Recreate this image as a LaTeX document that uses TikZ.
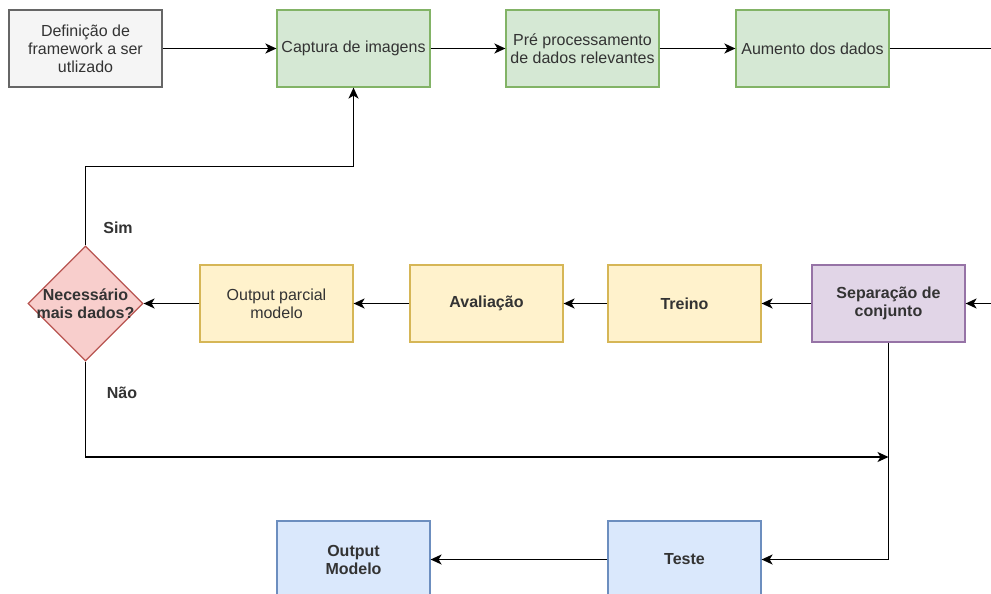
\documentclass[tikz,border=0pt]{standalone}
\usepackage{fontspec}
\setmainfont{Liberation Sans}
\usetikzlibrary{shapes.geometric,arrows.meta}
\definecolor{grayfill}{HTML}{F5F5F5}\definecolor{graydraw}{HTML}{666666}
\definecolor{greenfill}{HTML}{D5E8D4}\definecolor{greendraw}{HTML}{82B366}
\definecolor{yelfill}{HTML}{FFF2CC}\definecolor{yeldraw}{HTML}{D6B656}
\definecolor{purfill}{HTML}{E1D5E7}\definecolor{purdraw}{HTML}{9673A6}
\definecolor{bluefill}{HTML}{DAE8FC}\definecolor{bluedraw}{HTML}{6C8EBF}
\definecolor{redfill}{HTML}{F8CECC}\definecolor{reddraw}{HTML}{B85450}
\definecolor{txt}{HTML}{333333}
\begin{document}
\begin{tikzpicture}[x=1pt,y=-1pt,
  font=\fontsize{16}{18}\selectfont,
  box/.style={rectangle,minimum width=153pt,minimum height=77pt,inner sep=2pt,align=center,line width=1.2pt,text=txt},
  gbox/.style={box,fill=grayfill,draw=graydraw},
  grbox/.style={box,fill=greenfill,draw=greendraw},
  ybox/.style={box,fill=yelfill,draw=yeldraw},
  pbox/.style={box,fill=purfill,draw=purdraw},
  bbox/.style={box,fill=bluefill,draw=bluedraw},
  bt/.style={font=\fontsize{16}{18}\selectfont\bfseries},
  conn/.style={line width=1.5pt,draw=black},
  arr/.style={conn,-{Stealth[length=11pt,width=10pt,inset=3pt]}},
  lbl/.style={font=\fontsize{16}{18}\selectfont\bfseries,text=txt}]
\clip (0,0) rectangle (991,594);
\fill[white] (0,0) rectangle (991,594);
\node[gbox] (def) at (85.5,48.5) {Definição de\\framework a ser\\utlizado};
\node[grbox] (cap) at (353.5,48.5) {Captura de imagens};
\node[grbox] (pre) at (582.5,48.5) {Pré processamento\\de dados relevantes};
\node[grbox] (aum) at (812.5,48.5) {Aumento dos dados};
\node[pbox,bt] (sep) at (888.5,303.5) {Separação de\\conjunto};
\node[ybox,bt] (tre) at (684.5,303.5) {Treino};
\node[ybox,bt] (ava) at (486.5,303.5) {Avaliação};
\node[ybox] (opm) at (276.5,303.5) {Output parcial\\modelo};
\node[diamond,minimum width=115pt,minimum height=115pt,inner sep=0pt,fill=redfill,draw=reddraw,line width=1.2pt] (dia) at (85.5,303.5) {};
\node[align=center,text=txt,bt] (diat) at (dia.center) {Necessário\\mais dados?};
\node[bbox,bt] (tes) at (684.5,559.5) {Teste};
\node[bbox,bt] (out) at (353.5,559.5) {Output\\Modelo};
\node[lbl] (sim) at (118,228) {Sim};
\node[lbl] (nao) at (122,393) {Não};
\coordinate (rout) at (991,48.5);
\coordinate (rin) at (991,303.5);
\coordinate (join) at (888.5,457);
\draw[arr] (def) -- (cap);
\draw[arr] (cap) -- (pre);
\draw[arr] (pre) -- (aum);
\draw[conn] (aum) -- (rout);
\draw[arr] (rin) -- (sep);
\draw[arr] (sep) -- (tre);
\draw[arr] (tre) -- (ava);
\draw[arr] (ava) -- (opm);
\draw[arr] (opm) -- (dia.east);
\draw[arr] (dia.north) -- ++(0,-79) -| (cap.south);
\draw[arr] (dia.south) |- (join);
\draw[arr] (sep.south) |- (tes.east);
\draw[arr] (tes) -- (out);
\end{tikzpicture}
\end{document}
